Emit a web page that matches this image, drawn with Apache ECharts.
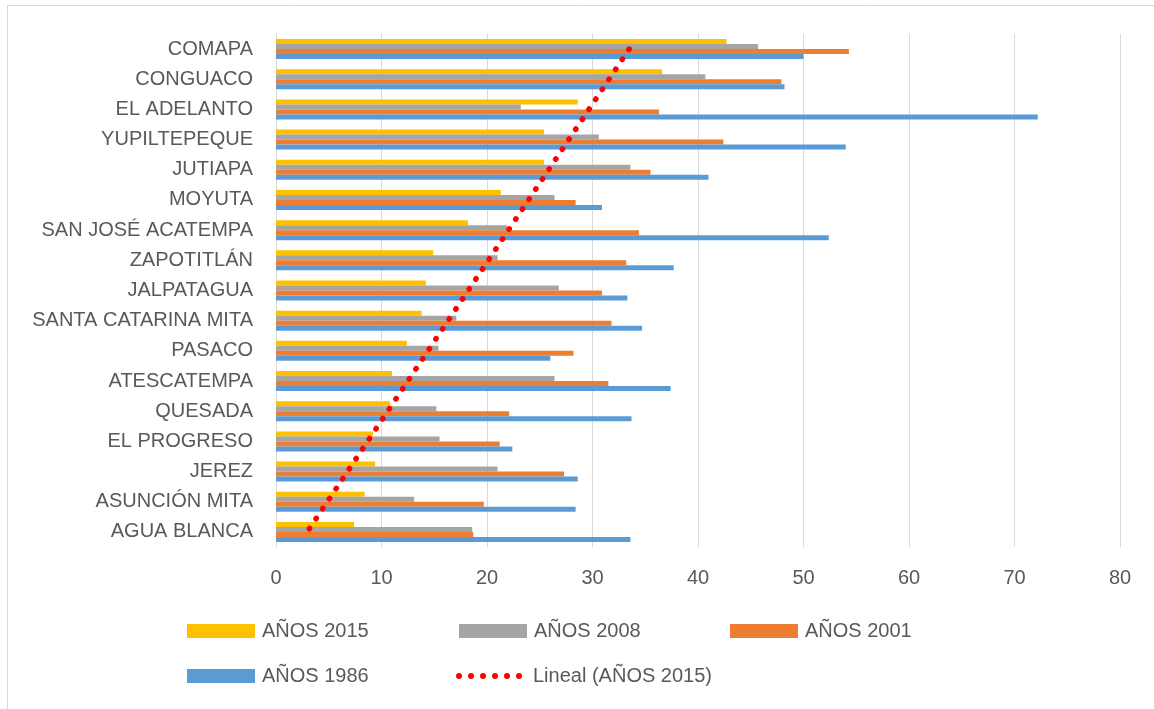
<!DOCTYPE html>
<html>
<head>
<meta charset="utf-8">
<script src="https://cdn.jsdelivr.net/npm/echarts@6/dist/echarts.min.js"></script>
<style>
html,body{margin:0;padding:0;background:#fff;}
#chart{width:1154px;height:709px;}
</style>
</head>
<body>
<div id="chart"></div>
<script>
var categories = ['COMAPA','CONGUACO','EL ADELANTO','YUPILTEPEQUE','JUTIAPA','MOYUTA','SAN JOSÉ ACATEMPA','ZAPOTITLÁN','JALPATAGUA','SANTA CATARINA MITA','PASACO','ATESCATEMPA','QUESADA','EL PROGRESO','JEREZ','ASUNCIÓN MITA','AGUA BLANCA'];
var years2015 = [42.7,36.6,28.6,25.4,25.4,21.3,18.2,14.9,14.2,13.8,12.4,11.0,10.8,9.2,9.4,8.4,7.4];
var years2008 = [45.7,40.7,23.2,30.6,33.6,26.4,21.9,21.0,26.8,17.1,15.4,26.4,15.2,15.5,21.0,13.1,18.6];
var years2001 = [54.3,47.9,36.3,42.4,35.5,28.4,34.4,33.2,30.9,31.8,28.2,31.5,22.1,21.2,27.3,19.7,18.7];
var years1986 = [50.0,48.2,72.2,54.0,41.0,30.9,52.4,37.7,33.3,34.7,26.0,37.4,33.7,22.4,28.6,28.4,33.6];
var xTicks = [0,10,20,30,40,50,60,70,80];

// Linear trendline (least squares) of the 2015 series
function linearFit(vals){
  var n = vals.length, sx=0, sy=0, sxx=0, sxy=0;
  for (var i=0;i<n;i++){ sx+=i; sy+=vals[i]; sxx+=i*i; sxy+=i*vals[i]; }
  var b = (n*sxy - sx*sy)/(n*sxx - sx*sx);
  var a = (sy - b*sx)/n;
  return vals.map(function(_,i){ return +(a+b*i).toFixed(3); });
}
var trend2015 = linearFit(years2015);

var font = "'Liberation Sans', Arial, sans-serif";
var txt = '#595959';
var dotsPath = 'path://' + [0,12,24,36,48,60].map(function(x){
  return 'M'+x+',3a3,3 0 1,0 6,0a3,3 0 1,0 -6,0z';
}).join('');

function leg(name, left, top, extra){
  var l = {
    data:[{name:name, icon:'rect'}], left:left, top:top, orient:'horizontal',
    itemWidth:68, itemHeight:14, selectedMode:false,
    textStyle:{color:txt, fontSize:20, fontFamily:font, padding:[0,0,0,2]},
    padding:0
  };
  if (extra) for (var k in extra) l[k]=extra[k];
  return l;
}

var chart = echarts.init(document.getElementById('chart'), null, {renderer:'canvas'});
chart.setOption({
  animation:false,
  backgroundColor:'#fff',
  graphic:[{type:'rect', shape:{x:7.5,y:5.5,width:1300,height:800}, style:{fill:'none', stroke:'#d9d9d9', lineWidth:1}, silent:true}],
  grid:{left:276, right:34, top:34, bottom:162, containLabel:false},
  xAxis:{
    type:'value', min:0, max:80, interval:10,
    axisLine:{show:false}, axisTick:{show:false},
    axisLabel:{color:txt, fontSize:20, fontFamily:font, margin:21,
      formatter:function(v){ return xTicks.indexOf(v)>=0 ? String(v) : ''; }},
    splitLine:{lineStyle:{color:'#d9d9d9', width:1}}
  },
  yAxis:{
    type:'category', data:categories, inverse:true,
    axisLine:{show:true, lineStyle:{color:'#d9d9d9', width:1}},
    axisTick:{show:false},
    axisLabel:{color:txt, fontSize:20, fontFamily:font, margin:23}
  },
  legend:[
    leg('AÑOS 2015', 187, 621),
    leg('AÑOS 2008', 459, 621),
    leg('AÑOS 2001', 730, 621),
    leg('AÑOS 1986', 187, 666),
    leg('Lineal (AÑOS 2015)', 456, 666, {
      data:[{name:'Lineal (AÑOS 2015)', icon:dotsPath, itemStyle:{color:'#FF0000', borderWidth:0}, lineStyle:{width:0, opacity:0}}],
      itemWidth:66, itemHeight:6,
      textStyle:{color:txt, fontSize:20, fontFamily:font, padding:[0,0,0,6]}})
  ],
  series:[
    {name:'AÑOS 2015', type:'bar', data:years2015, barWidth:5, barGap:'0%', itemStyle:{color:'#FFC000'}},
    {name:'AÑOS 2008', type:'bar', data:years2008, barWidth:5, barGap:'0%', itemStyle:{color:'#A5A5A5'}},
    {name:'AÑOS 2001', type:'bar', data:years2001, barWidth:5, barGap:'0%', itemStyle:{color:'#ED7D31'}},
    {name:'AÑOS 1986', type:'bar', data:years1986, barWidth:5, barGap:'0%', itemStyle:{color:'#5B9BD5'}},
    {name:'Lineal (AÑOS 2015)', type:'line', data:trend2015, symbol:'none', z:5,
      itemStyle:{color:'#FF0000'},
      lineStyle:{color:'#FF0000', width:5.5, type:[0.5,11.5], cap:'round'}}
  ]
});
</script>
</body>
</html>
